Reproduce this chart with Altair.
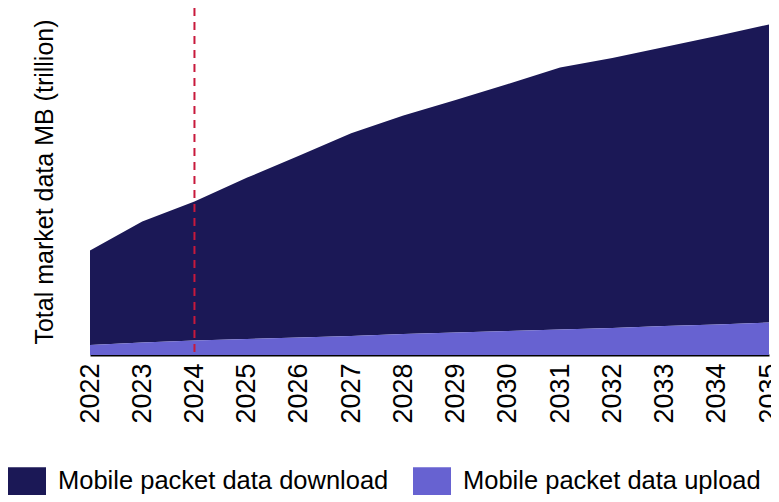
import altair as alt
import pandas as pd

years = list(range(2022, 2036))
download = [94.5, 121.0, 139.0, 161.2, 181.7, 202.8, 218.5, 232.5, 247.0, 262.0, 270.0, 279.0, 288.5, 298.0]
upload = [10.0, 12.5, 14.5, 16.0, 17.5, 19.0, 21.0, 22.5, 24.0, 25.5, 27.0, 29.0, 30.5, 32.5]
series = ["Mobile packet data download", "Mobile packet data upload"]
colors = ["#1b1856", "#6762d1"]
marker_year = [2024]

rows = []
for y, d, u in zip(years, download, upload):
    rows.append({"year": y, "series": series[0], "value": d, "ord": 1})
    rows.append({"year": y, "series": series[1], "value": u, "ord": 0})
df = pd.DataFrame(rows)

FONT = "Liberation Sans"

area = alt.Chart(df).mark_area(interpolate="linear").encode(
    x=alt.X("year:Q",
            scale=alt.Scale(domain=[2022, 2035], nice=False, zero=False),
            axis=alt.Axis(values=years, format="d", labelAngle=-90, labelFontSize=27,
                          labelFont=FONT, labelColor="#000", labelPadding=8,
                          ticks=False, domainColor="#000", domainWidth=2,
                          grid=False, title=None, labelBaseline="middle", labelAlign="right",
                          labelOverlap=False, labelBound=False, labelFlush=False)),
    y=alt.Y("value:Q", stack="zero",
            scale=alt.Scale(domain=[0, 347], nice=False),
            axis=alt.Axis(labels=False, ticks=False, domain=False, grid=False,
                          title="Total market data MB (trillion)", titleFont=FONT,
                          titleFontSize=25, titleFontWeight="normal", titleColor="#000",
                          titlePadding=33)),
    color=alt.Color("series:N",
                    scale=alt.Scale(domain=series, range=colors),
                    legend=alt.Legend(orient="none", legendX=-82, legendY=454,
                                      direction="horizontal", title=None,
                                      symbolType="M-1,-0.75H1V0.75H-1Z", symbolSize=1444,
                                      symbolStrokeWidth=0, symbolOpacity=1,
                                      labelFont=FONT, labelFontSize=25.5,
                                      labelColor="#000", columnPadding=24,
                                      labelOffset=12, labelLimit=400, padding=0)),
    order=alt.Order("ord:Q"),
)

rule_df = pd.DataFrame({"year": marker_year})
rule = alt.Chart(rule_df).mark_rule(color="#c8193c", strokeWidth=2, strokeDash=[8, 6]).encode(
    x="year:Q"
)

chart = alt.layer(area, rule).properties(
    width=679, height=347,
    padding={"left": 82, "top": 0, "right": 2, "bottom": 140},
    autosize=alt.AutoSizeParams(type="none"),
).configure_view(stroke=None)

chart.save("out.html", embed_options={"renderer": "svg", "actions": False})
